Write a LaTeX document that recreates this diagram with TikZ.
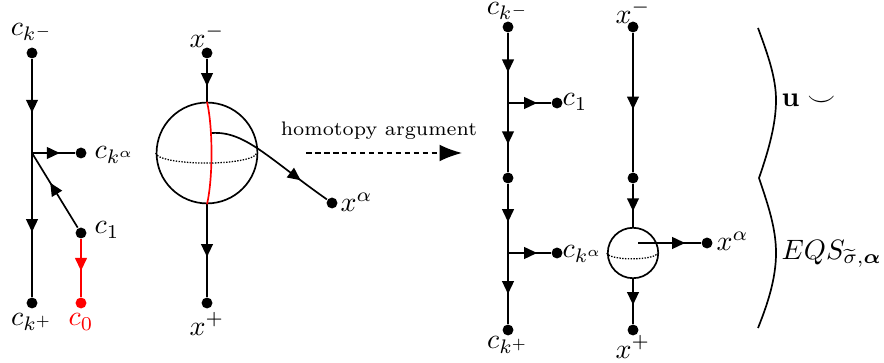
\documentclass[tikz,border=0pt]{standalone}
\usepackage{amsmath,amssymb,bm}
\usetikzlibrary{arrows.meta,decorations.markings}
\begin{document}
\begin{tikzpicture}[x=0.357pt,y=-0.357pt,line width=0.6pt,
  dot/.style={circle,fill,inner sep=0pt,minimum size=3.9pt},
  lab/.style={inner sep=1pt},
  marr/.style={postaction={decorate,decoration={markings,mark=at position #1 with {\arrow{Triangle[length=4.6pt,width=4.2pt]}}}}},
  sphere/.style={circle,draw,inner sep=0pt,minimum size=#1},
  eqline/.style={line width=0.45pt,dash pattern=on 0.5pt off 0.5pt}]
\useasboundingbox (0,0) rectangle (884,363);
% ---------- left tree ----------
\node[dot] (lt) at (32,53) {};
\coordinate (lb) at (32,153);
\node[dot] (lbot) at (32,303) {};
\node[dot] (lka) at (81,153) {};
\node[dot] (lc1) at (81,233) {};
\node[dot,red] (lc0) at (81,303) {};
\node[lab] (Llt) at (32,32) {$c_{k^-}$};
\node[lab] (Llbot) at (32,322) {$c_{k^+}$};
\node[lab,anchor=west] (Llka) at (91,155) {$c_{k^\alpha}$};
\node[lab,anchor=west] (Llc1) at (91,230) {$c_1$};
\node[lab,red] (Llc0) at (81,322) {$c_0$};
\draw[marr=0.57] (lt) -- (lb);
\draw[marr=0.55] (lb) -- (lbot);
\draw[marr=0.65] (lb) -- (lka);
\draw[marr=0.6] (lc1) -- (lb);
\draw[red,marr=0.55] (lc1) -- (lc0);
% ---------- left sphere ----------
\node[sphere=36pt] (sph) at (207,153) {};
\node[dot] (xm) at (207,53) {};
\node[dot] (xp) at (207,303) {};
\node[dot] (xa) at (332,203) {};
\node[lab] (Lxm) at (207,36) {$x^-$};
\node[lab] (Lxp) at (207,324) {$x^+$};
\node[lab,anchor=west] (Lxa) at (337,202) {$x^\alpha$};
\draw[marr=0.63] (xm) -- (sph.north);
\draw[marr=0.57] (sph.south) -- (xp);
\draw[red] (sph.north) .. controls (213,128) and (213,178) .. (sph.south);
\draw[eqline] (sph.west) arc[start angle=180,end angle=360,x radius=18pt,y radius=3.6pt];
\coordinate (cs) at (212,133);
\draw[marr=0.76] (cs) .. controls (245,131) and (268,158) .. (xa);
% ---------- homotopy arrow ----------
\node[lab] (ht) at (379,131) {\fontsize{7}{9}\selectfont homotopy argument};
\coordinate (h1) at (306,153);
\coordinate (h2) at (462,153);
\draw[dash pattern=on 2pt off 1.2pt,-{Latex[length=8pt,width=6pt]}] (h1) -- (h2);
% ---------- right tree ----------
\node[dot] (rt) at (508,27) {};
\coordinate (rb1) at (508,103);
\node[dot] (rm) at (508,178) {};
\coordinate (rb2) at (508,253);
\node[dot] (rbot) at (508,330) {};
\node[dot] (rc1) at (557,103) {};
\node[dot] (rka) at (557,253) {};
\node[lab] (Lrt) at (508,11) {$c_{k^-}$};
\node[lab] (Lrbot) at (508,345) {$c_{k^+}$};
\node[lab,anchor=west] (Lrc1) at (559,102) {$c_1$};
\node[lab,anchor=west] (Lrka) at (559,254) {$c_{k^\alpha}$};
\draw[marr=0.56] (rt) -- (rb1);
\draw[marr=0.6] (rb1) -- (rm);
\draw[marr=0.55] (rm) -- (rb2);
\draw[marr=0.58] (rb2) -- (rbot);
\draw[marr=0.68] (rb1) -- (rc1);
\draw[marr=0.68] (rb2) -- (rka);
% ---------- right sphere ----------
\node[dot] (yt) at (633,27) {};
\node[dot] (ym) at (633,178) {};
\node[sphere=18pt] (sp2) at (633,253) {};
\node[dot] (yb) at (633,330) {};
\node[dot] (ya) at (707,243) {};
\node[lab] (Lyt) at (633,12) {$x^-$};
\node[lab] (Lyb) at (633,347) {$x^+$};
\node[lab,anchor=west] (Lya) at (713,241) {$x^\alpha$};
\draw[marr=0.55] (yt) -- (ym);
\draw[marr=0.63] (ym) -- (sp2.north);
\draw[marr=0.58] (sp2.south) -- (yb);
\draw[eqline] (sp2.west) arc[start angle=180,end angle=360,x radius=9pt,y radius=2.1pt];
\coordinate (cs2) at (638,243);
\draw[marr=0.75] (cs2) -- (ya);
% ---------- brace ----------
\coordinate (q0) at (758,28);
\coordinate (q1) at (776,100);
\coordinate (q2) at (759,178);
\coordinate (q3) at (776,253);
\coordinate (q4) at (758,328);
\draw (q0) .. controls (768,55) and (776,78) .. (q1)
          .. controls (776,125) and (768,152) .. (q2)
          .. controls (768,205) and (776,228) .. (q3)
          .. controls (776,278) and (768,303) .. (q4);
\node[lab,anchor=west] (Lu) at (778,100) {$\mathbf{u}\smile$};
\node[lab,anchor=west] (Leqs) at (778,254) {$EQS_{\widetilde{\sigma},\bm{\alpha}}$};
\end{tikzpicture}
\end{document}
